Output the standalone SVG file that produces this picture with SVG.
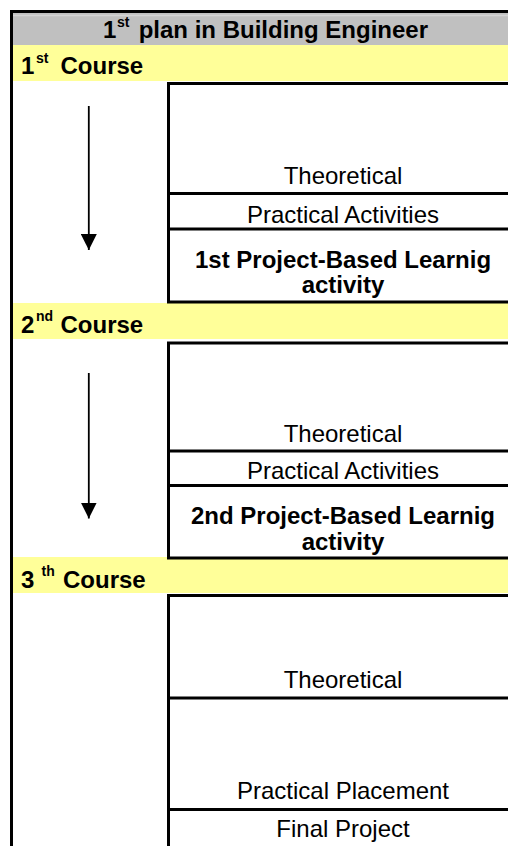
<svg xmlns="http://www.w3.org/2000/svg" width="508" height="846" viewBox="0 0 508 846">
  <style>
    text { font-family: "Liberation Sans", Arial, sans-serif; font-size: 24px; fill: #000; }
    .b { font-weight: bold; }
    .c { text-anchor: middle; }
    .sup { font-size: 14px; font-weight: bold; }
    .rule { stroke: #000; stroke-width: 3; fill: none; }
    .band { fill: #FFFF99; }
    .arrow { stroke: #000; stroke-width: 1.8; fill: none; marker-end: url(#ah); }
  </style>
  <defs>
    <marker id="ah" markerUnits="userSpaceOnUse" markerWidth="16" markerHeight="16" refX="16" refY="8" orient="auto" viewBox="0 0 16 16">
      <path d="M0,0 L16,8 L0,16 z" fill="#000"/>
    </marker>
  </defs>
  <rect x="0" y="0" width="508" height="846" fill="#fff"/>

  <g id="title">
    <rect x="13" y="13" width="495" height="32" fill="#C0C0C0"/>
    <line x1="13" y1="15.5" x2="508" y2="15.5" stroke="#D4D4D4" stroke-width="1.5"/>
    <text class="b" x="103" y="38">1<tspan class="sup" x="117" y="27">st</tspan><tspan x="132" y="38"> plan in Building Engineer</tspan></text>
  </g>

  <g id="course1">
    <rect class="band" x="13" y="45" width="495" height="36"/>
    <text class="b" x="21" y="74">1<tspan class="sup" x="36" y="63">st</tspan><tspan x="60.5" y="74">Course</tspan></text>
  </g>
  <g id="course2">
    <rect class="band" x="13" y="303" width="495" height="36"/>
    <text class="b" x="21" y="333">2<tspan class="sup" x="36" y="321">nd</tspan><tspan x="60.5" y="333">Course</tspan></text>
  </g>
  <g id="course3">
    <rect class="band" x="13" y="557" width="495" height="36"/>
    <text class="b" x="21" y="588">3<tspan class="sup" x="41.5" y="576">th</tspan><tspan x="63" y="588">Course</tspan></text>
  </g>

  <g id="frame">
    <line class="rule" x1="11.5" y1="10" x2="11.5" y2="846"/>
    <line class="rule" x1="10" y1="11.5" x2="508" y2="11.5"/>
  </g>

  <g id="block1">
    <path class="rule" d="M508,83.5 H168.5 V302 H508 M168.5,193.5 H508 M168.5,229 H508"/>
    <text class="c" x="343" y="183.5">Theoretical</text>
    <text class="c" x="343" y="222.5">Practical Activities</text>
    <text class="c b" x="343" y="267.5">1st Project-Based Learnig</text>
    <text class="c b" x="343" y="293">activity</text>
  </g>

  <g id="block2">
    <path class="rule" d="M508,343 H168.5 V558 H508 M168.5,451 H508 M168.5,485.5 H508"/>
    <text class="c" x="343" y="442">Theoretical</text>
    <text class="c" x="343" y="479">Practical Activities</text>
    <text class="c b" x="343" y="523.5">2nd Project-Based Learnig</text>
    <text class="c b" x="343" y="549.5">activity</text>
  </g>

  <g id="block3">
    <path class="rule" d="M508,595.5 H168.5 V846 M168.5,698 H508 M168.5,809.5 H508"/>
    <text class="c" x="343" y="688">Theoretical</text>
    <text class="c" x="343" y="799">Practical Placement</text>
    <text class="c" x="343" y="837">Final Project</text>
  </g>

  <g id="connectors">
    <line class="arrow" x1="88.8" y1="106" x2="88.8" y2="250"/>
    <line class="arrow" x1="88.8" y1="373" x2="88.8" y2="518.5"/>
  </g>
</svg>
